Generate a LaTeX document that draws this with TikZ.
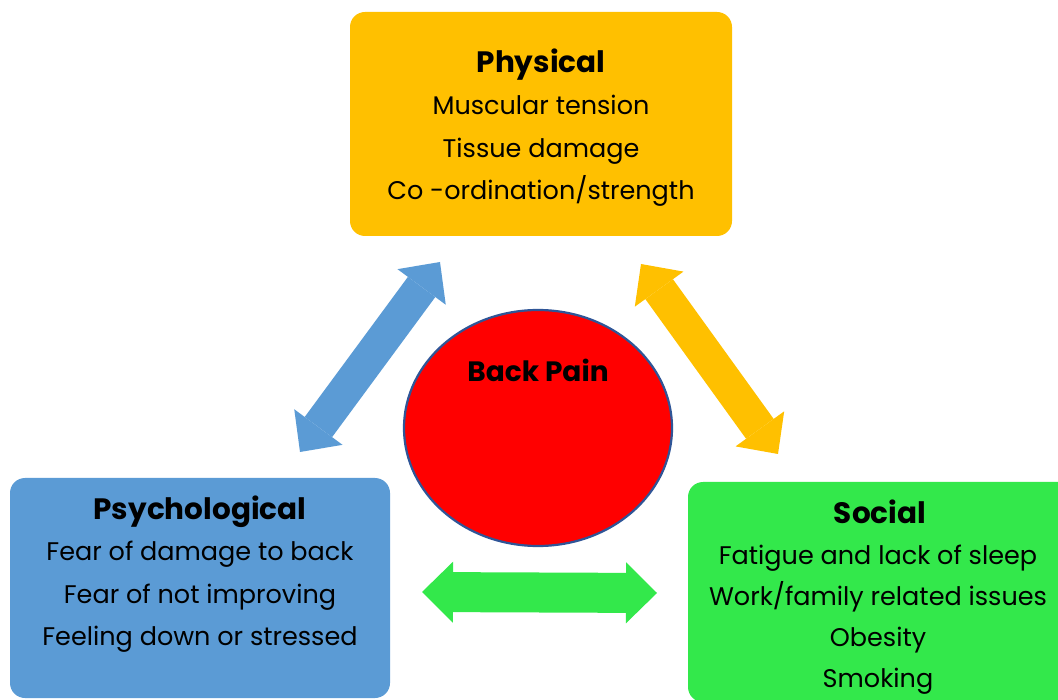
\documentclass[tikz,border=0pt]{standalone}
\usepackage{fontspec}
\setmainfont{Poppins}
\usepackage{tikz}
\usetikzlibrary{shapes}
\usetikzlibrary{arrows.meta}
\usetikzlibrary{positioning}
\definecolor{physcol}{HTML}{FFC000}
\definecolor{psychcol}{HTML}{5B9BD5}
\definecolor{socialcol}{HTML}{33E84B}
\definecolor{rimcol}{HTML}{2F5597}
\tikzset{
  main node/.style={rectangle,rounded corners=15pt,inner sep=0pt},
  title node/.style={font=\fontsize{29.5}{34}\selectfont\bfseries,inner sep=0pt,text height=20pt,text depth=6pt},
  list node/.style={align=center,font=\fontsize{25.5}{42.5}\selectfont,inner sep=0pt},
  pain node/.style={ellipse,draw=rimcol,line width=2.2pt,fill=red,minimum width=268pt,minimum height=236pt},
  block arrow/.style={<->,>={Triangle[length=31pt,width=60pt,line width=0pt]},line width=34pt}
}
\begin{document}
\begin{tikzpicture}[x=1pt,y=-1pt]
  \useasboundingbox (0,0) rectangle (1058,700);
  \clip (0,0) rectangle (1058,700);
    \node [main node,fill=physcol,minimum width=382pt,minimum height=224pt] (1) at (541,124) {};
    \node [main node,fill=psychcol,minimum width=380pt,minimum height=220pt] (2) at (200,588) {};
    \node [main node,fill=socialcol,minimum width=392pt,minimum height=220pt] (3) at (884,592) {};
    \node [pain node] (4) at (538,428) {};
    \node [title node,below=41pt of 1.north] (5) {Physical};
    \node [list node,below=16pt of 5] (6) {Muscular tension\\Tissue damage\\Co -ordination/strength};
    \node [title node,below=21pt of 2.north] (7) {Psychological};
    \node [list node,below=16pt of 7] (8) {Fear of damage to back\\Fear of not improving\\Feeling down or stressed};
    \node [title node,below=21pt of 3.north,xshift=-4pt] (9) {Social};
    \node [list node,font=\fontsize{25.5}{41}\selectfont,below=16pt of 9,xshift=-2pt] (10) {Fatigue and lack of sleep\\Work/family related issues\\Obesity\\Smoking};
    \node [title node,font=\fontsize{28}{34}\selectfont\bfseries,above=40pt of 4.center] (11) {Back Pain};
    \coordinate (12) at (300,452);
    \coordinate (13) at (440,262);
    \coordinate (14) at (641,264);
    \coordinate (15) at (778,454);
    \coordinate (16) at (422,592);
    \coordinate (17) at (657,593);
    \draw [block arrow,psychcol] (12) -- (13);
    \draw [block arrow,physcol] (14) -- (15);
    \draw [block arrow,socialcol,line width=40pt,>={Triangle[length=31pt,width=61pt,line width=0pt]}] (16) -- (17);
\end{tikzpicture}
\end{document}
